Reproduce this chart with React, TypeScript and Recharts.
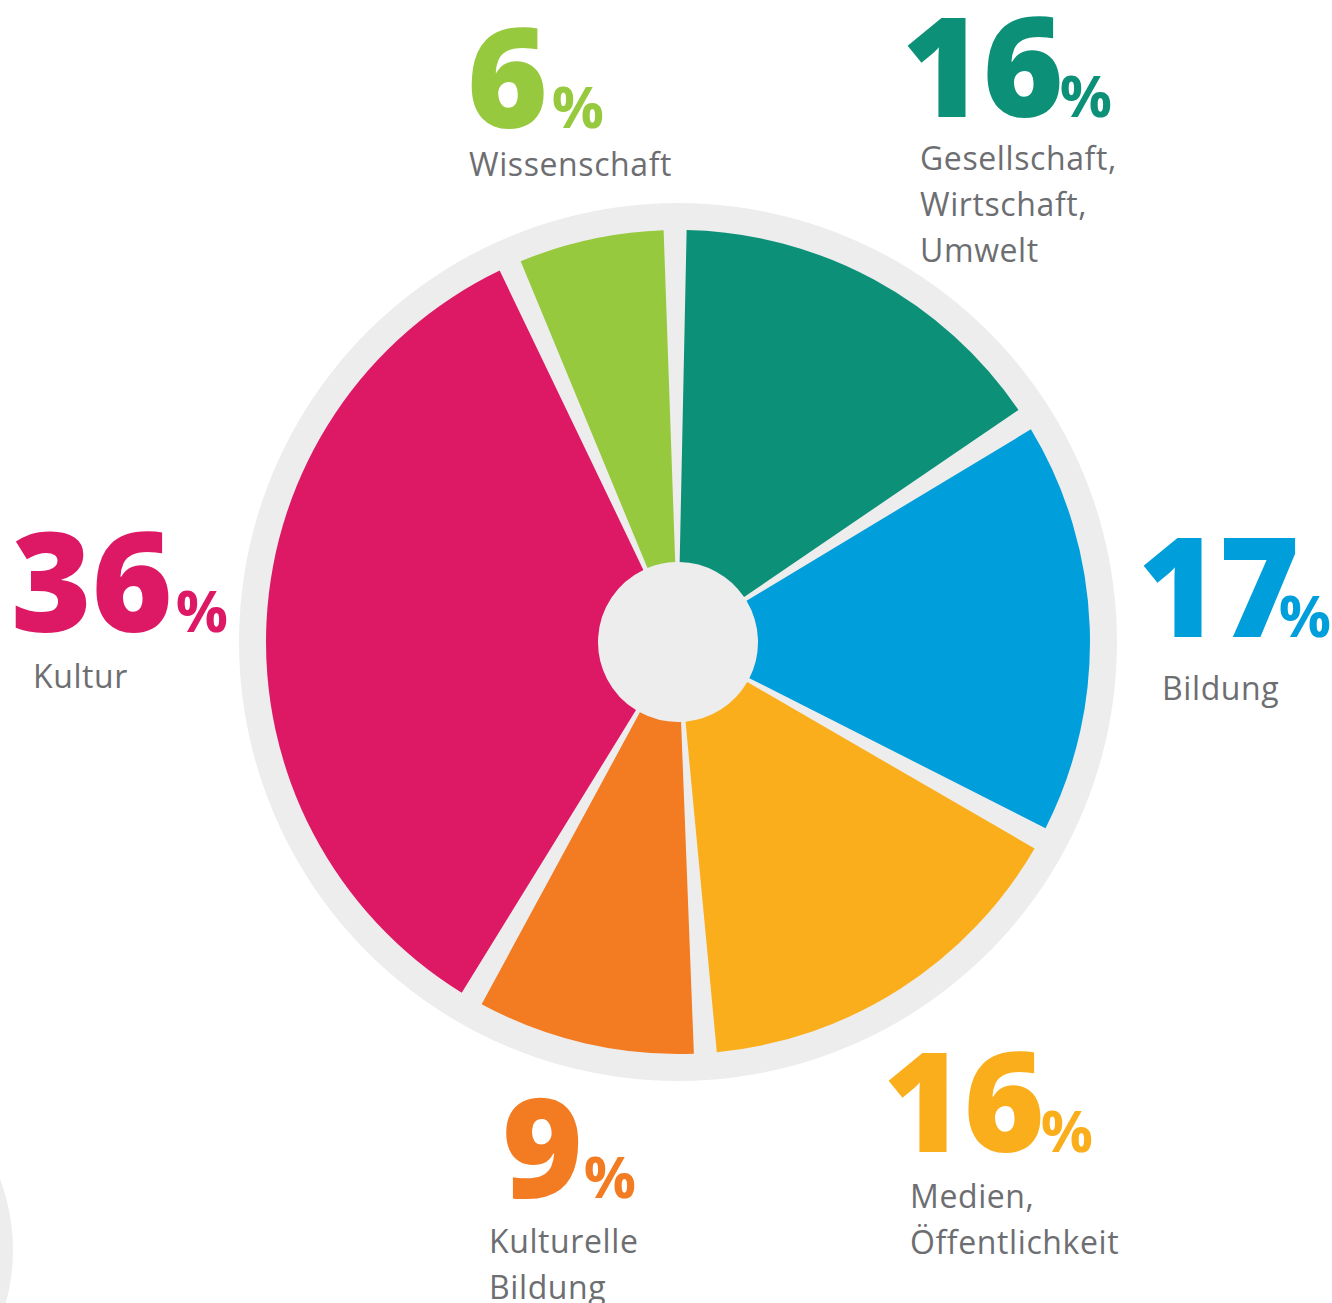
import React from 'react';
import { PieChart, Pie, Cell } from 'recharts';

// ---- data ----
const categories = [
  'Gesellschaft, Wirtschaft, Umwelt',
  'Bildung',
  'Medien, Öffentlichkeit',
  'Kulturelle Bildung',
  'Kultur',
  'Wissenschaft',
];
const shares = [16, 17, 16, 9, 36, 6];
const labelLines = [
  ['Gesellschaft,', 'Wirtschaft,', 'Umwelt'],
  ['Bildung'],
  ['Medien,', 'Öffentlichkeit'],
  ['Kulturelle', 'Bildung'],
  ['Kultur'],
  ['Wissenschaft'],
];

// ---- styles / layout ----
const colors = ['#0c9178', '#009edb', '#fbae1b', '#f37b22', '#dd1965', '#97c93e'];
const RING = '#ededed';
const TEXT = '#6d6e71';
const FONT = '"Open Sans", "Noto Sans", sans-serif';
// label offsets relative to pie centre: [numDx, numDy, descDx, descDy, percentDx]
const labelOffsets = [
  [224, -525, 242, -472, -4],
  [460, -5, 484, 58, -21],
  [205, 510, 232, 566, -4],
  [-176, 556, -189, 611, 1],
  [-667, -10, -645, 46, 3],
  [-211, -514, -209, -466, 4],
];
const LINE_STEP = 46;

const data = categories.map((name, i) => ({ name, value: shares[i] }));
const disc = [{ name: 'bg', value: 1 }];

const CX = 678;
const CY = 642;

const renderLabel = (props: any) => {
  const { cx, cy, index } = props;
  const off = labelOffsets[index];
  const color = colors[index];
  return (
    <g key={`lbl-${index}`}>
      <text
        x={cx + off[0]}
        y={cy + off[1]}
        fill={color}
        fontFamily={FONT}
        fontWeight={800}
        fontSize={138}
        textAnchor="start"
      >
        {shares[index]}
        <tspan fontSize={58} fontWeight={700} dx={off[4]}>%</tspan>
      </text>
      <text
        x={cx + off[2]}
        y={cy + off[3]}
        fill={TEXT}
        fontFamily={FONT}
        fontSize={32}
        letterSpacing={0.6}
        textAnchor="start"
      >
        {labelLines[index].map((line, j) => (
          <tspan key={j} x={cx + off[2]} y={cy + off[3] + j * LINE_STEP}>
            {line}
          </tspan>
        ))}
      </text>
    </g>
  );
};

export default function App() {
  return (
    <div style={{ position: 'absolute', left: 0, top: 0, background: '#fff' }}>
      <PieChart width={1332} height={1303} margin={{ top: 0, right: 0, bottom: 0, left: 0 }}>
        <Pie
          data={disc}
          dataKey="value"
          cx={-187}
          cy={1250}
          outerRadius={200}
          fill={RING}
          stroke="none"
          isAnimationActive={false}
        />
        <Pie
          data={disc}
          dataKey="value"
          cx={CX}
          cy={CY}
          outerRadius={439}
          fill={RING}
          stroke="none"
          isAnimationActive={false}
        />
        <Pie
          data={data}
          dataKey="value"
          nameKey="name"
          cx={CX}
          cy={CY}
          innerRadius={80}
          outerRadius={412}
          startAngle={88.8}
          endAngle={-271.2}
          paddingAngle={3.2}
          stroke="none"
          label={renderLabel}
          labelLine={false}
          isAnimationActive={false}
        >
          {data.map((d, i) => (
            <Cell key={d.name} fill={colors[i]} />
          ))}
        </Pie>
      </PieChart>
    </div>
  );
}
